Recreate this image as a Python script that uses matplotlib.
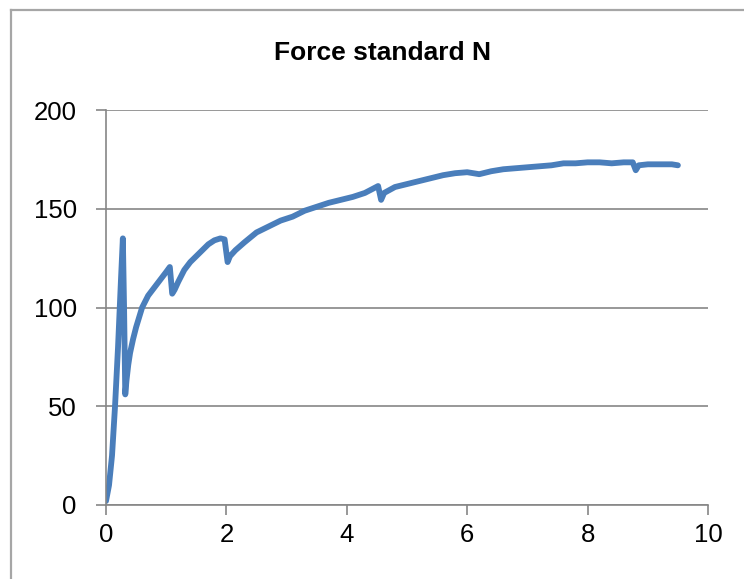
import matplotlib.pyplot as plt
from matplotlib.lines import Line2D

# readings taken off the chart
time_s = [0.00, 0.05, 0.10, 0.15, 0.20, 0.25, 0.28, 0.30, 0.32, 0.34,
          0.37, 0.40, 0.45, 0.50, 0.55, 0.60, 0.65, 0.70, 0.80, 0.90,
          1.00, 1.06, 1.10, 1.14, 1.20, 1.30, 1.40, 1.50, 1.60, 1.70,
          1.80, 1.90, 1.97, 2.02, 2.06, 2.15, 2.30, 2.50, 2.70, 2.90,
          3.10, 3.30, 3.50, 3.70, 3.90, 4.10, 4.30, 4.52, 4.57, 4.62,
          4.80, 5.00, 5.20, 5.40, 5.60, 5.80, 6.00, 6.20, 6.40, 6.60,
          6.80, 7.00, 7.20, 7.40, 7.60, 7.80, 8.00, 8.20, 8.40, 8.60,
          8.75, 8.80, 8.85, 9.00, 9.20, 9.40, 9.50]
force = [2, 10, 25, 50, 80, 115, 135, 100, 56, 63,
         71, 77, 84, 90, 95, 100, 103, 106, 110, 114,
         118, 120.5, 107, 109, 113, 119, 123, 126, 129, 132,
         134, 135, 134.5, 123, 126, 129, 133, 138, 141, 144,
         146, 149, 151, 153, 154.5, 156, 158, 161.5, 154.5, 158,
         161, 162.5, 164, 165.5, 167, 168, 168.5, 167.5, 169, 170,
         170.5, 171, 171.5, 172, 173, 173, 173.5, 173.5, 173, 173.5,
         173.5, 169.5, 172, 172.5, 172.5, 172.5, 172]
x_ticks = [0, 2, 4, 6, 8, 10]
y_ticks = [0, 50, 100, 150, 200]
title = "Force standard N"

grid_col = "#868686"
line_col = "#4a7ebb"
plt.rcParams['font.family'] = ["Liberation Sans", "DejaVu Sans"]

fig = plt.figure(figsize=(7.44, 5.79), dpi=100)
ax = fig.add_axes([106/744, 1 - 505/579, 602/744, 395/579])

ax.plot(time_s, force, color=line_col, linewidth=4.2,
        solid_joinstyle="round", solid_capstyle="round")

ax.set_xlim(0, 10)
ax.set_ylim(0, 200)
ax.set_xticks(x_ticks)
ax.set_yticks(y_ticks)
ax.yaxis.grid(True, color=grid_col, linewidth=1.2)
ax.set_axisbelow(True)
for s in ["top", "right"]:
    ax.spines[s].set_visible(False)
for s in ["left", "bottom"]:
    ax.spines[s].set_color(grid_col)
    ax.spines[s].set_linewidth(1.2)
ax.tick_params(axis="both", colors=grid_col, length=7, width=1.2,
               labelcolor="black", labelsize=18.5)
ax.tick_params(axis="y", pad=14)
ax.tick_params(axis="x", pad=6)

fig.text(383/744, 1 - 53/579, title, ha="center", va="center",
         fontsize=19, fontweight="bold")

# chart frame (only left and top edges visible in the crop)
fig.add_artist(Line2D([11/744, 11/744], [0, 1 - 10/579], transform=fig.transFigure,
                      color="#a6a6a6", linewidth=1.6))
fig.add_artist(Line2D([11/744, 1], [1 - 10/579, 1 - 10/579], transform=fig.transFigure,
                      color="#a6a6a6", linewidth=1.6))

fig.savefig("out.png", dpi=100)
